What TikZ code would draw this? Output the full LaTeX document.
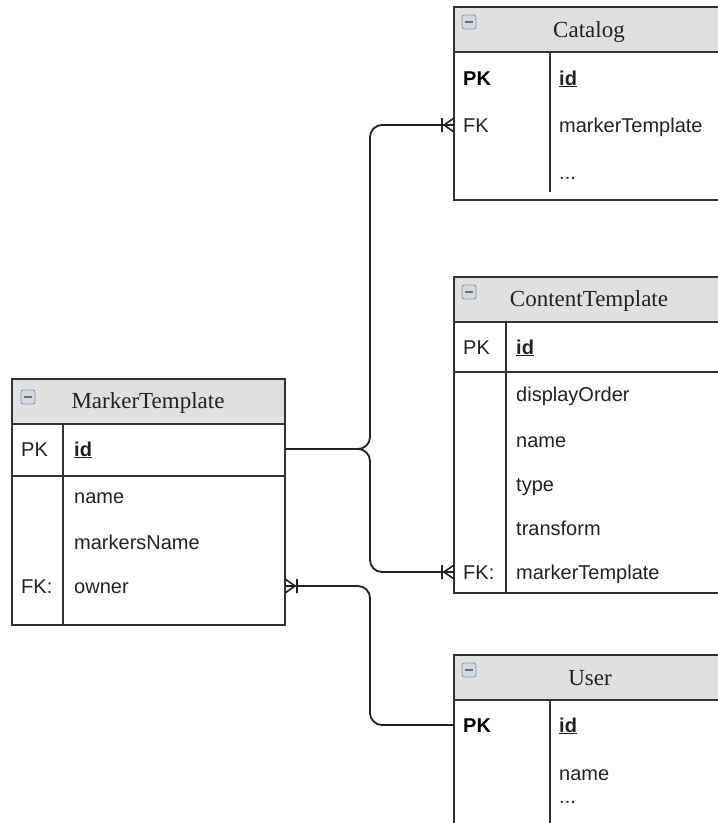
\documentclass[tikz,border=0pt]{standalone}
\usepackage{fontspec}
\setmainfont{Liberation Sans}
\newfontfamily\headfont{Liberation Serif}
\usetikzlibrary{calc}
\definecolor{linec}{HTML}{333333}
\definecolor{connc}{HTML}{222222}
\definecolor{hdrgray}{HTML}{E0E0E0}
\definecolor{txt}{HTML}{222222}
\definecolor{iconfill}{HTML}{D3DAE3}
\definecolor{iconline}{HTML}{8C9BAE}
\tikzset{
  tbox/.style={draw=linec, line width=1.8pt, fill=white, rectangle, outer sep=0pt,
               inner sep=0pt, anchor=north west},
  hdr/.style={draw=linec, line width=1.8pt, fill=hdrgray},
  colrule/.style={draw=linec, line width=1.8pt},
  fld/.style={anchor=west, inner sep=0pt, text height=14pt, text depth=0pt,
              font=\fontsize{20}{24}\selectfont, text=txt},
  fldb/.style={fld, font=\fontsize{20}{24}\selectfont\bfseries, text=black},
  title/.style={inner sep=0pt, text height=15pt, text depth=0pt,
                font=\headfont\fontsize{23}{27}\selectfont, text=txt},
  conn/.style={draw=connc, line width=1.8pt, rounded corners=12pt},
  onemany/.pic={\draw[line width=1.6pt, draw=connc]
      (0,-7) -- (-10,0) -- (0,7) (-12,-7) -- (-12,7);},
  collapse/.pic={\draw[draw=iconline, fill=iconfill, line width=0.9pt, rounded corners=2.5pt]
      (-7,-7) rectangle (7,7);
      \draw[draw=linec!70, line width=1.8pt] (-4,0) -- (4,0);},
}
\begin{document}
\begin{tikzpicture}[x=1pt, y=-1pt]
\clip (0,0) rectangle (718,823);
\fill[white] (0,0) rectangle (718,823);

% ---------- Catalog ----------
\node[tbox, minimum width=270pt, minimum height=193pt] (cat) at (454,7) {};
\draw[hdr] (454,7) rectangle (724,52);
\draw[colrule] (550,52) -- (550,192);
\pic at (469,22) {collapse};
\node[title] (catT) at (589,30) {Catalog};
\node[fldb] (catPK) at (463,78) {PK};
\node[fld] (catId) at (559,78) {\textbf{\underline{id}}};
\node[fld] (catFK) at (463,125) {FK};
\node[fld] (catMT) at (559,125) {markerTemplate};
\node[fld] (catMore) at (559,172) {...};

% ---------- ContentTemplate ----------
\node[tbox, minimum width=270pt, minimum height=316pt] (ct) at (454,277) {};
\draw[hdr] (454,277) rectangle (724,322);
\draw[colrule] (454,372) -- (724,372);
\draw[colrule] (506,322) -- (506,593);
\pic at (469,292) {collapse};
\node[title] (ctT) at (589,299) {ContentTemplate};
\node[fld] (ctPK) at (463,347) {PK};
\node[fld] (ctId) at (516,347) {\textbf{\underline{id}}};
\node[fld] (ctOrder) at (516,394) {displayOrder};
\node[fld] (ctName) at (516,440) {name};
\node[fld] (ctType) at (516,484) {type};
\node[fld] (ctTrans) at (516,528) {transform};
\node[fld] (ctFK) at (463,572) {FK:};
\node[fld] (ctMT) at (516,572) {markerTemplate};

% ---------- MarkerTemplate ----------
\node[tbox, minimum width=273pt, minimum height=246pt] (mt) at (12,379) {};
\draw[hdr] (12,379) rectangle (285,424);
\draw[colrule] (12,476) -- (285,476);
\draw[colrule] (63,424) -- (63,625);
\pic at (28,397) {collapse};
\node[title] (mtT) at (148,401) {MarkerTemplate};
\node[fld] (mtPK) at (21,449) {PK};
\node[fld] (mtId) at (74,449) {\textbf{\underline{id}}};
\node[fld] (mtName) at (74,496) {name};
\node[fld] (mtMN) at (74,542) {markersName};
\node[fld] (mtFK) at (21,586) {FK:};
\node[fld] (mtOwner) at (74,586) {owner};

% ---------- User ----------
\node[tbox, minimum width=270pt, minimum height=200pt] (usr) at (454,655) {};
\draw[hdr] (454,655) rectangle (724,700);
\draw[colrule] (550,700) -- (550,850);
\pic at (469,670) {collapse};
\node[title] (usrT) at (590,678) {User};
\node[fldb] (usrPK) at (463,725) {PK};
\node[fld] (usrId) at (559,725) {\textbf{\underline{id}}};
\node[fld] (usrName) at (559,773) {name};
\node[fld] (usrMore) at (559,796) {...};

% ---------- relations ----------
\coordinate (bus) at (370,0);
\draw[conn] (mt.east |- mtId) -| (bus |- catFK) -- (cat.west |- catFK);
\draw[conn] (mt.east |- mtId) -| (bus |- ctFK) -- (ct.west |- ctFK);
\draw[conn] (mt.east |- mtOwner) -| (bus |- usrPK) -- (usr.west |- usrPK);
\pic at (cat.west |- catFK) {onemany};
\pic at (ct.west |- ctFK) {onemany};
\pic[rotate=180] at (mt.east |- mtOwner) {onemany};
\end{tikzpicture}
\end{document}
